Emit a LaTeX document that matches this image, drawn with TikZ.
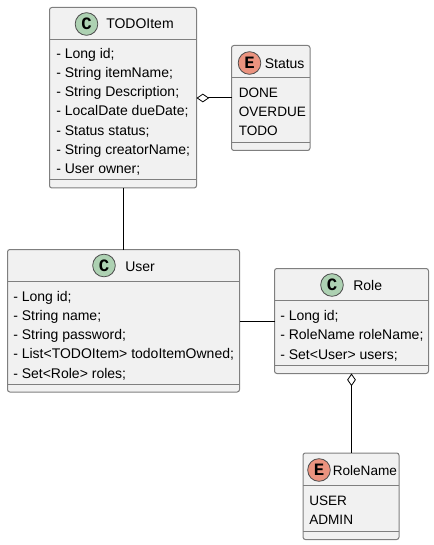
\documentclass[tikz,border=0pt]{standalone}
\usepackage{fontspec}
\setmainfont{Liberation Sans}
\newfontfamily\badgefont{Liberation Mono}
\usetikzlibrary{calc, arrows.meta, positioning}
\definecolor{boxfill}{HTML}{F1F1F1}
\definecolor{boxline}{HTML}{7F7F7F}
\definecolor{classbadge}{HTML}{ADD1B2}
\definecolor{enumbadge}{HTML}{EB937F}
\tikzset{
  umlbox/.style={draw=boxline, fill=boxfill, line width=0.75pt, rounded corners=1.8pt, inner sep=0pt, outer sep=0pt},
  rule/.style={draw=boxline, line width=0.75pt},
  badge/.style={circle, draw=black!70, line width=0.6pt, minimum size=17pt, inner sep=0pt, font=\fontsize{13}{13}\badgefont\bfseries},
  classbox/.style={badge, fill=classbadge},
  enumbox/.style={badge, fill=enumbadge},
  title/.style={anchor=base west, inner sep=0pt, font=\fontsize{10.5}{12}\selectfont},
  member/.style={anchor=base west, inner sep=0pt, font=\fontsize{10.5}{12}\selectfont},
  enumtext/.style={anchor=base west, inner sep=0pt, font=\fontsize{10.2}{12}\selectfont},
  link/.style={line width=0.75pt, black},
  aggr/.style={link, {Diamond[open, fill=white, length=9.5pt, width=6.5pt, line width=0.6pt]}-}
}
\begin{document}
\begin{tikzpicture}[x=0.75pt, y=-0.75pt]
    \useasboundingbox (0,0) rectangle (434,545);

    % --- Boxes ---
    \node[umlbox, minimum width=147*0.75pt, minimum height=180.5*0.75pt] (todo) at (123,97.75) {};
    \node[umlbox, minimum width=78.5*0.75pt, minimum height=105*0.75pt] (status) at (270.75,98) {};
    \node[umlbox, minimum width=232*0.75pt, minimum height=142.5*0.75pt] (user) at (123.5,320.75) {};
    \node[umlbox, minimum width=154*0.75pt, minimum height=105*0.75pt] (role) at (351.5,321) {};
    \node[umlbox, minimum width=96*0.75pt, minimum height=86.5*0.75pt] (rolename) at (351,496.25) {};

    % --- Compartment lines ---
    \draw[rule] (todo.west |- 0,39.5) -- (todo.east |- 0,39.5);
    \draw[rule] (todo.west |- 0,180) -- (todo.east |- 0,180);
    \draw[rule] (status.west |- 0,77.5) -- (status.east |- 0,77.5);
    \draw[rule] (status.west |- 0,142.5) -- (status.east |- 0,142.5);
    \draw[rule] (user.west |- 0,281.5) -- (user.east |- 0,281.5);
    \draw[rule] (user.west |- 0,384) -- (user.east |- 0,384);
    \draw[rule] (role.west |- 0,300.5) -- (role.east |- 0,300.5);
    \draw[rule] (role.west |- 0,365.5) -- (role.east |- 0,365.5);
    \draw[rule] (rolename.west |- 0,485.5) -- (rolename.east |- 0,485.5);
    \draw[rule] (rolename.west |- 0,531.5) -- (rolename.east |- 0,531.5);

    % --- Headers ---
    \node[classbox] (todobadge) at (86.5,24) {C};
    \node[title] (todotitle) at (106,29) {TODOItem};
    \node[enumbox] (statusbadge) at (249.5,63) {E};
    \node[title] (statustitle) at (264.5,68.5) {Status};
    \node[classbox] (userbadge) at (104,265.5) {C};
    \node[title] (usertitle) at (125,271) {User};
    \node[classbox] (rolebadge) at (332,285) {C};
    \node[title] (roletitle) at (353,290) {Role};
    \node[enumbox] (rolenamebadge) at (319,470) {E};
    \node[enumtext] (rolenametitle) at (332.5,475) {RoleName};

    % --- Members ---
    \node[member] (todo1) at (56,59) {- Long id;};
    \node[member] (todo2) at (56,78) {- String itemName;};
    \node[member] (todo3) at (56,97) {- String Description;};
    \node[member] (todo4) at (56,116) {- LocalDate dueDate;};
    \node[member] (todo5) at (56,136) {- Status status;};
    \node[member] (todo6) at (56,155) {- String creatorName;};
    \node[member] (todo7) at (56,174) {- User owner;};

    \node[enumtext] (status1) at (238.5,98) {DONE};
    \node[enumtext] (status2) at (238.5,117) {OVERDUE};
    \node[enumtext] (status3) at (238.5,136) {TODO};

    \node[member] (user1) at (13,301) {- Long id;};
    \node[member] (user2) at (13,320) {- String name;};
    \node[member] (user3) at (13,339) {- String password;};
    \node[member] (user4) at (13,358) {- List<TODOItem> todoItemOwned;};
    \node[member] (user5) at (13,378) {- Set<Role> roles;};

    \node[member] (role1) at (280,320) {- Long id;};
    \node[member] (role2) at (280,339) {- RoleName roleName;};
    \node[member] (role3) at (280,359) {- Set<User> users;};

    \node[enumtext] (rolename1) at (309,505) {USER};
    \node[enumtext] (rolename2) at (309,524) {ADMIN};

    % --- Connectors ---
    \draw[aggr] (todo.east |- status.west) -- (status.west);
    \draw[link] (todo.south) -- (todo.south |- user.north);
    \draw[link] (user.east |- role.west) -- (role.west);
    \draw[aggr] (role.south) -- (role.south |- rolename.north);
\end{tikzpicture}
\end{document}
